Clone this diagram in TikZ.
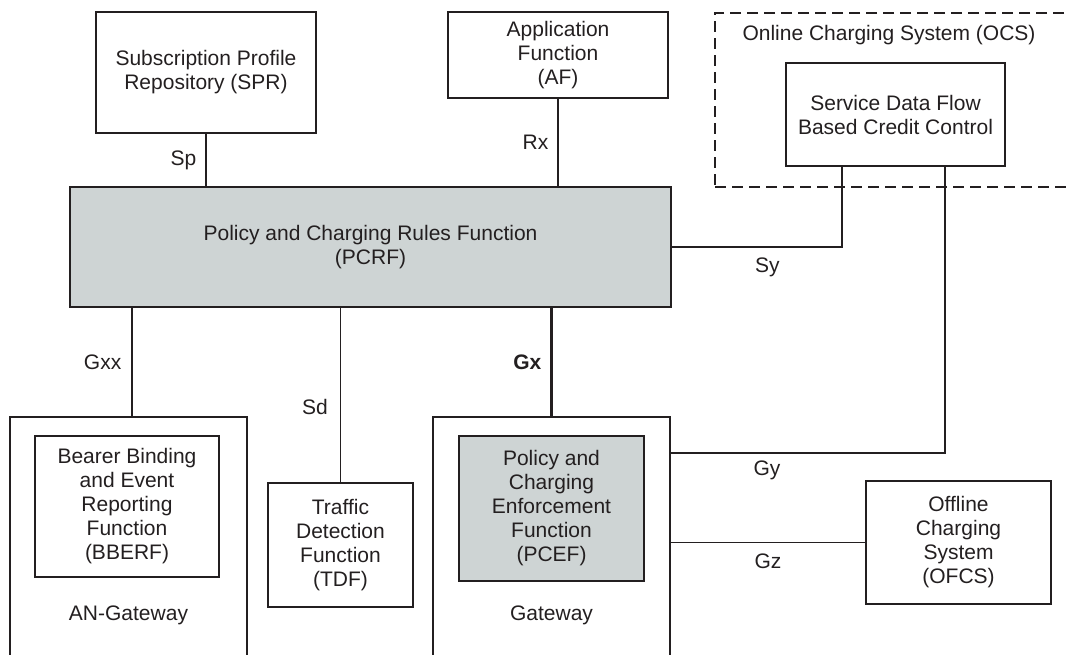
\documentclass[tikz,border=0pt]{standalone}
\usepackage{fontspec}
\setmainfont{Liberation Sans}
\usetikzlibrary{positioning}
\definecolor{pcgray}{RGB}{206,212,212}
\definecolor{ink}{RGB}{35,31,32}
\newcommand\lab{\fontsize{21}{24}\selectfont}

\begin{document}
\begin{tikzpicture}[
  x=1pt, y=-1pt, color=ink,
  box/.style={draw, line width=2.4pt, inner sep=0pt, align=center, font=\lab},
  shaded/.style={box, fill=pcgray},
  link/.style={line width=1.5pt},
  trunk/.style={line width=2.3pt},
  ifname/.style={inner sep=0pt, font=\lab}
]
  \useasboundingbox (0,0) rectangle (1067,654);

  \node[box, minimum width=220, minimum height=121] (spr) at (206,72.5)
    {Subscription Profile\\Repository (SPR)};
  \node[box, minimum width=220, minimum height=86] (af) at (558,55)
    {Application\\Function\\(AF)};
  \node[box, dashed, dash pattern=on 11pt off 6pt, line width=2.8pt,
    minimum width=385, minimum height=174] (ocs) at (907.5,100) {};
  \node[ifname] (ocslbl) at (889,35) {Online Charging System (OCS)};
  \node[box, minimum width=219, minimum height=103] (sdf) at (895.5,114.5)
    {Service Data Flow\\Based Credit Control};
  \node[shaded, minimum width=601, minimum height=120] (pcrf) at (370.5,247)
    {Policy and Charging Rules Function\\(PCRF)};

  \node[box, minimum width=237, minimum height=263] (angw) at (128.5,548.5) {};
  \node[box, minimum width=184, minimum height=141] (bberf) at (127,506.5)
    {Bearer Binding\\and Event\\Reporting\\Function\\(BBERF)};
  \node[ifname] (anlbl) at (128.5,615) {AN-Gateway};
  \node[box, minimum width=145, minimum height=124] (tdf) at (340.5,545)
    {Traffic\\Detection\\Function\\(TDF)};
  \node[box, minimum width=237, minimum height=263] (gw) at (551.5,548.5) {};
  \node[shaded, minimum width=185, minimum height=145] (pcef) at (551.5,508.5)
    {Policy and\\Charging\\Enforcement\\Function\\(PCEF)};
  \node[ifname] (gwlbl) at (551.5,615) {Gateway};
  \node[box, minimum width=185, minimum height=123] (ofcs) at (958.5,542.5)
    {Offline\\Charging\\System\\(OFCS)};

  \coordinate (gxxfoot) at (132,417);
  \coordinate (syturn) at (842,247);
  \coordinate (gyturn) at (945,453);

  \draw[link] (spr.south) -- (spr.south |- pcrf.north)
    node[ifname, midway, left=9pt] {Sp};
  \draw[link] (af.south) -- (af.south |- pcrf.north)
    node[ifname, midway, left=9pt] {Rx};
  \draw[link] (gxxfoot) -- (gxxfoot |- pcrf.south)
    node[ifname, midway, left=10pt] {Gxx};
  \draw[link] (tdf.north) -- (tdf.north |- pcrf.south)
    node[ifname, pos=.43, left=12pt] {Sd};
  \draw[trunk] (gw.north) -- (gw.north |- pcrf.south)
    node[ifname, midway, left=9pt, font=\lab\bfseries] {Gx};
  \draw[link] (pcrf.east |- syturn) -- (syturn)
    node[ifname, pos=.56, yshift=-20pt] {Sy} -- (syturn |- sdf.south);
  \draw[link] (gyturn |- sdf.south) -- (gyturn) -- (gw.east |- gyturn)
    node[ifname, pos=.65, yshift=-17pt] {Gy};
  \draw[link] (gw.east |- ofcs.west) -- (ofcs.west)
    node[ifname, midway, yshift=-19pt] {Gz};
\end{tikzpicture}
\end{document}
